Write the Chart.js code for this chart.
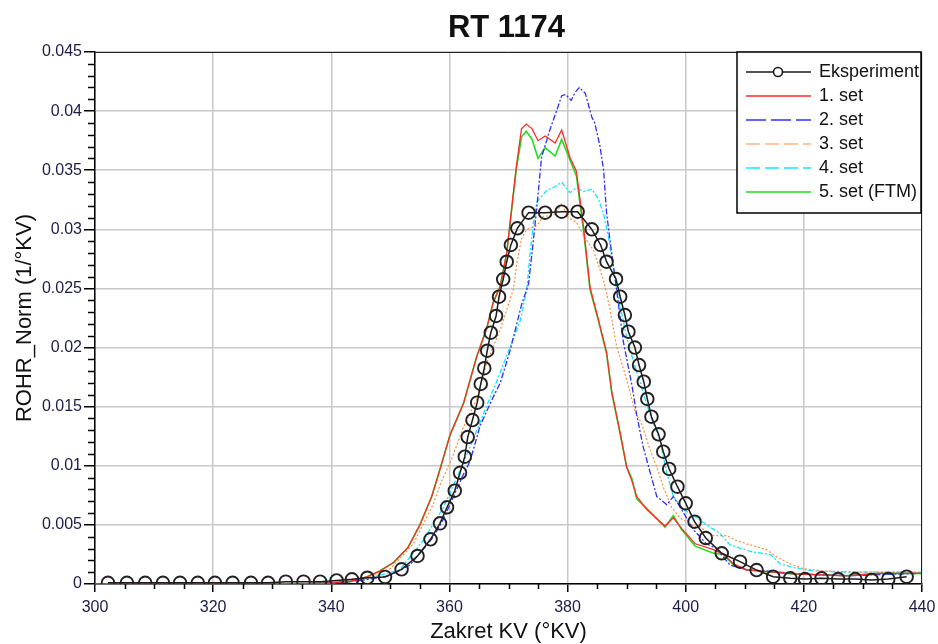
<!DOCTYPE html>
<html>
<head>
<meta charset="utf-8">
<script src="https://cdn.jsdelivr.net/npm/chart.js@4.4.1/dist/chart.umd.min.js"></script>
<style>
  html, body { margin: 0; padding: 0; background: #fff; }
</style>
</head>
<body>
<canvas id="rohrChart" width="938" height="644"></canvas>
<script>
// crank angle (°KV) and normalised ROHR (1/°KV)
const expX = [302.2, 305.4, 308.5, 311.5, 314.4, 317.4, 320.3, 323.3, 326.4, 329.3, 332.3, 335.3, 338.1, 340.9, 343.5,
  346.1, 349.1, 351.9, 354.6, 356.8, 358.4, 359.6, 360.9, 361.8, 362.6, 363.1, 363.9, 364.7, 365.3, 365.9,
  366.4, 367.0, 367.9, 368.4, 369.1, 369.7, 370.4, 371.5, 373.4, 376.2, 379.0, 381.7, 384.1, 385.6, 386.6,
  388.2, 388.9, 389.7, 390.3, 391.4, 392.1, 392.9, 393.5, 394.2, 395.4, 396.2, 397.2, 398.6, 400.0, 401.5,
  403.4, 406.1, 409.2, 412.0, 414.8, 417.7, 420.2, 423.0, 425.8, 428.7, 431.5, 434.3, 437.4];
const expY = [0.0001, 0.0001, 0.0001, 0.0001, 0.0001, 0.0001, 0.0001, 0.0001, 0.0001, 0.0001, 0.0002, 0.0002, 0.0002, 0.0003, 0.0004,
  0.00053, 0.0006, 0.00124, 0.00237, 0.00378, 0.00513, 0.00649, 0.00789, 0.00941, 0.01077, 0.01243, 0.01387, 0.01534, 0.01692, 0.01825,
  0.01973, 0.02126, 0.02267, 0.0243, 0.02577, 0.02726, 0.02868, 0.03009, 0.03141, 0.03141, 0.03149, 0.03149, 0.03, 0.02868, 0.02726,
  0.0258, 0.0243, 0.02275, 0.02134, 0.02, 0.01852, 0.01711, 0.01565, 0.01415, 0.01266, 0.01119, 0.00973, 0.00823, 0.00683, 0.00527,
  0.00389, 0.0026, 0.00189, 0.00118, 0.00062, 0.00048, 0.00042, 0.00048, 0.00042, 0.00042, 0.00034, 0.00042, 0.00062];

const set1X = [300, 335, 340, 343.2, 346, 348.2, 350.5, 353, 355, 357, 358.4, 360.1, 362.4, 364.6, 366.3, 367.4, 368.6, 369.7,
  370.5, 371.3, 372.2, 373.0, 374.0, 375.0, 376.2, 377.9, 379.0, 380.4, 381.5, 382.7, 383.8, 385.2, 386.6, 387.5, 388.9,
  390.0, 390.9, 391.7, 393.4, 396.5, 397.9, 399.3, 401.6, 404.7, 406.4, 408.1, 410.3, 414.8, 418.2, 421.6, 427.2, 432.9, 438.5, 440];
const set1Y = [0, 0, 0.0001, 0.0002, 0.0006, 0.0011, 0.0018, 0.0031, 0.005, 0.0074, 0.0097, 0.0126, 0.0153, 0.0192, 0.0216, 0.0238, 0.0252, 0.028,
  0.0316, 0.0352, 0.0385, 0.0389, 0.0385, 0.0375, 0.0379, 0.0373, 0.0384, 0.0361, 0.0349, 0.0302, 0.0251, 0.0224, 0.0196, 0.0162, 0.0128,
  0.0099, 0.0087, 0.0074, 0.0063, 0.0049, 0.0056, 0.0047, 0.0034, 0.0029, 0.0025, 0.0017, 0.0012, 0.001, 0.00085, 0.0008, 0.0007, 0.0009, 0.0009, 0.0009];

const set2X = [300, 335, 340, 345, 349.9, 353.3, 356.2, 357.3, 359.0, 360.7, 362.3, 363.5, 365.2, 367.4, 368.6, 370.3, 372.2, 373.4,
  374.2, 374.8, 375.6, 377.0, 378.4, 379.0, 379.7, 380.6, 381.3, 382.0, 383.0, 384.1, 384.6, 385.5, 386.1, 386.6, 387.2, 388.3,
  389.4, 390.9, 391.7, 392.8, 394.0, 395.1, 396.8, 397.9, 399.3, 401.3, 403.5, 405.2, 407.5, 410.3, 413.7, 418, 422, 428, 433, 440];
const set2Y = [0, 0, 0.0001, 0.0003, 0.0007, 0.0016, 0.0033, 0.004, 0.0055, 0.0074, 0.0092, 0.0104, 0.0134, 0.0158, 0.017, 0.0198, 0.0236, 0.0254,
  0.029, 0.0319, 0.0361, 0.0384, 0.0404, 0.0413, 0.0414, 0.0409, 0.0416, 0.042, 0.0415, 0.0395, 0.039, 0.037, 0.035, 0.0314, 0.029, 0.0249,
  0.0206, 0.0168, 0.0143, 0.0116, 0.0094, 0.0074, 0.0067, 0.0074, 0.0063, 0.0046, 0.0034, 0.003, 0.0016, 0.0012, 0.0011, 0.0009, 0.0008, 0.0007, 0.0008, 0.0009];

const set3X = [300, 335, 340, 345, 350, 353.9, 355, 357.3, 358.5, 360.4, 362.4, 364.6, 366.3, 368.6, 370.8, 371.4, 372.2, 373.1,
  374.8, 375.9, 377.6, 378.7, 379.0, 380.1, 381.5, 382.7, 384.4, 386.1, 387.2, 388.3, 390.0, 391.4, 392.5, 394.0, 395.1, 396.2,
  397.6, 399.0, 401.3, 402.4, 404.7, 406.9, 408.5, 410.3, 413.7, 415.4, 417.7, 419.9, 423.3, 430.1, 438.5, 440];
const set3Y = [0, 0, 0.0001, 0.0004, 0.0013, 0.0034, 0.0045, 0.0068, 0.0085, 0.0106, 0.0133, 0.0156, 0.0187, 0.0215, 0.0249, 0.0271, 0.0292, 0.03,
  0.0303, 0.0311, 0.0312, 0.0319, 0.0322, 0.031, 0.0306, 0.0295, 0.0282, 0.0257, 0.0232, 0.0201, 0.0173, 0.0146, 0.0136, 0.0113, 0.0099, 0.0082,
  0.0065, 0.0056, 0.0049, 0.0048, 0.0041, 0.0041, 0.0037, 0.0034, 0.0029, 0.0023, 0.0017, 0.0013, 0.0011, 0.001, 0.001, 0.0009];

const set4X = [300, 335, 340, 345, 351.6, 355.6, 359.0, 361.8, 364.0, 366.9, 368.3, 370.3, 372.0, 373.1, 373.6, 374.2, 374.8, 375.6,
  376.5, 377.9, 379.0, 380.4, 381.5, 382.7, 384.1, 385.2, 386.1, 386.9, 387.7, 388.3, 388.9, 390.0, 391.1, 392.5, 393.4, 394.2,
  395.6, 396.8, 397.9, 399.6, 401.9, 404.1, 405.8, 407.5, 411.4, 414.3, 416.0, 418.2, 421.6, 427.2, 438.5, 440];
const set4Y = [0, 0, 0.0001, 0.0003, 0.0012, 0.0037, 0.0065, 0.0096, 0.0122, 0.0158, 0.0175, 0.0201, 0.0223, 0.0249, 0.0277, 0.0305, 0.0323, 0.0328,
  0.0333, 0.0336, 0.034, 0.0331, 0.0335, 0.0332, 0.0334, 0.0326, 0.0313, 0.0294, 0.0268, 0.025, 0.0235, 0.0209, 0.0189, 0.0167, 0.0152, 0.014,
  0.0122, 0.0094, 0.0074, 0.0063, 0.0056, 0.0048, 0.0043, 0.0033, 0.0027, 0.0025, 0.0017, 0.0014, 0.0011, 0.001, 0.001, 0.001];

const set5X = [300, 335, 340, 343.2, 346, 348.2, 350.5, 353, 355, 357, 358.4, 360.1, 362.4, 364.6, 366.3, 367.4, 368.6, 369.7,
  370.5, 371.3, 372.2, 373.0, 374.0, 375.0, 376.2, 377.9, 379.0, 380.4, 381.5, 382.7, 383.8, 385.2, 386.6, 387.5, 388.9,
  390.0, 390.9, 391.7, 393.4, 396.5, 397.9, 399.3, 401.6, 404.7, 406.4, 408.1, 410.3, 414.8, 418.2, 421.6, 427.2, 432.9, 438.5, 440];
const set5Y = [0, 0, 0.0001, 0.0002, 0.0006, 0.0011, 0.0018, 0.0031, 0.005, 0.0074, 0.0097, 0.0126, 0.0153, 0.0192, 0.0216, 0.0238, 0.0252, 0.028,
  0.0315, 0.035, 0.0378, 0.0383, 0.0376, 0.036, 0.0369, 0.0362, 0.0376, 0.0359, 0.0345, 0.0299, 0.0249, 0.0223, 0.0195, 0.0161, 0.0127,
  0.0099, 0.0089, 0.0072, 0.0064, 0.0048, 0.0058, 0.0046, 0.0032, 0.0026, 0.0025, 0.0016, 0.0012, 0.001, 0.00085, 0.0008, 0.0007, 0.0009, 0.0009, 0.0009];

const seriesLabels = ["Eksperiment", "1. set", "2. set", "3. set", "4. set", "5. set (FTM)"];
const chartTitle = "RT 1174";
const xTickStep = 20;
const yTickStep = 0.005;

const toPoints = (xs, ys) => xs.map((x, i) => ({ x: x, y: ys[i] }));

const FONT = "'Liberation Sans', Arial, sans-serif";
const TICK_COLOR = "#1c1c48";

// title centred over the plot, plus the thin frame on top and right
const plotTitle = {
  id: "plotTitle",
  afterDraw(chart) {
    const ctx = chart.ctx;
    const area = chart.chartArea;
    ctx.save();
    ctx.strokeStyle = "#222";
    ctx.lineWidth = 1;
    ctx.beginPath();
    ctx.moveTo(area.left, area.top + 0.5);
    ctx.lineTo(area.right - 0.5, area.top + 0.5);
    ctx.lineTo(area.right - 0.5, area.bottom);
    ctx.stroke();
    ctx.fillStyle = "#111";
    ctx.font = "bold 31px " + FONT;
    ctx.textAlign = "center";
    ctx.textBaseline = "middle";
    ctx.fillText(chartTitle, (area.left + area.right) / 2 - 2, 28);
    ctx.restore();
  },
};

// small ticks between the labelled ones
const minorTicks = {
  id: "minorTicks",
  afterDraw(chart) {
    const ctx = chart.ctx;
    const xs = chart.scales.x;
    const ys = chart.scales.y;
    ctx.save();
    ctx.strokeStyle = "#000";
    ctx.lineWidth = 1.5;
    ctx.beginPath();
    for (let v = xs.min; v <= xs.max; v += 5) {
      if (v % xTickStep === 0) continue;
      const px = Math.round(xs.getPixelForValue(v)) + 0.5;
      ctx.moveTo(px, ys.bottom);
      ctx.lineTo(px, ys.bottom + 5);
    }
    for (let i = 1; i < 45; i++) {
      if (i % 5 === 0) continue;
      const py = Math.round(ys.getPixelForValue(i / 1000)) + 0.5;
      ctx.moveTo(xs.left, py);
      ctx.lineTo(xs.left - 7, py);
    }
    ctx.stroke();
    ctx.restore();
  },
};

// boxed legend in the top right corner of the plot
const legendDash = [[], [], [20, 5], [14, 5], [14, 5], []];
const boxLegend = {
  id: "boxLegend",
  afterDraw(chart) {
    const ctx = chart.ctx;
    const area = chart.chartArea;
    const left = 737;
    const top = area.top;
    const right = area.right - 1;
    const bottom = 213;
    ctx.save();
    ctx.fillStyle = "#fff";
    ctx.fillRect(left, top, right - left, bottom - top);
    ctx.strokeStyle = "#000";
    ctx.lineWidth = 1.5;
    ctx.strokeRect(left, top, right - left, bottom - top);
    ctx.font = "18px " + FONT;
    ctx.textBaseline = "middle";
    chart.data.datasets.forEach((ds, i) => {
      const y = top + 20 + i * 24;
      ctx.strokeStyle = ds.borderColor;
      ctx.lineWidth = ds.borderWidth;
      ctx.setLineDash(legendDash[i]);
      ctx.beginPath();
      ctx.moveTo(left + 9, y);
      ctx.lineTo(left + 74, y);
      ctx.stroke();
      ctx.setLineDash([]);
      if (ds.pointRadius) {
        ctx.beginPath();
        ctx.arc(left + 41, y, 4.5, 0, Math.PI * 2);
        ctx.fillStyle = "#fff";
        ctx.fill();
        ctx.lineWidth = 1.6;
        ctx.stroke();
      }
      ctx.fillStyle = "#111";
      ctx.fillText(ds.label, left + 82, y);
    });
    ctx.restore();
  },
};

const lineSet = (label, xs, ys, color, width, dash) => ({
  label: label,
  data: toPoints(xs, ys),
  borderColor: color,
  borderWidth: width,
  borderDash: dash,
  pointRadius: 0,
  tension: 0,
  fill: false,
});

new Chart(document.getElementById("rohrChart"), {
  type: "line",
  data: {
    datasets: [
      {
        label: seriesLabels[0],
        data: toPoints(expX, expY),
        borderColor: "#1a1a1a",
        borderWidth: 1.5,
        pointRadius: 6.3,
        pointBorderWidth: 1.9,
        pointBackgroundColor: "rgba(0,0,0,0)",
        pointBorderColor: "#222",
        tension: 0,
        fill: false,
        clip: 0,
      },
      lineSet(seriesLabels[1], set1X, set1Y, "#ff2b2b", 1.3, []),
      lineSet(seriesLabels[2], set2X, set2Y, "#3030f5", 1.3, [6, 2, 2, 2]),
      lineSet(seriesLabels[3], set3X, set3Y, "#ff8c3c", 1.2, [2, 2]),
      lineSet(seriesLabels[4], set4X, set4Y, "#14e6ff", 1.3, [5, 2, 2, 2]),
      lineSet(seriesLabels[5], set5X, set5Y, "#22dd22", 1.6, []),
    ],
  },
  options: {
    responsive: false,
    animation: false,
    layout: { padding: { left: 0, right: 16, top: 52, bottom: 0 } },
    plugins: {
      legend: { display: false },
      tooltip: { enabled: false },
      title: { display: false },
    },
    scales: {
      x: {
        type: "linear",
        min: 300,
        max: 440,
        afterFit: (scale) => {
          scale.height = 60;
          scale.paddingLeft = 0;
          scale.paddingRight = 0;
        },
        ticks: {
          stepSize: xTickStep,
          color: TICK_COLOR,
          font: { family: FONT, size: 16 },
          padding: 6,
          maxRotation: 0,
        },
        grid: { color: "#c8c8c8", lineWidth: 1.5, tickColor: "#000", tickLength: 8 },
        border: { color: "#000", width: 1.5 },
        title: {
          display: true,
          text: "Zakret KV (°KV)",
          color: "#111",
          font: { family: FONT, size: 22 },
          padding: { top: 0, bottom: -1 },
        },
      },
      y: {
        min: 0,
        max: 0.045,
        afterFit: (scale) => { scale.width = 95; },
        ticks: {
          stepSize: yTickStep,
          color: TICK_COLOR,
          font: { family: FONT, size: 16 },
          padding: 2,
          callback: (v) => (v === 0 ? "0" : String(+v.toFixed(3))),
        },
        grid: { color: "#c8c8c8", lineWidth: 1.5, tickColor: "#000", tickLength: 11 },
        border: { color: "#000", width: 1.5 },
        title: {
          display: true,
          text: "ROHR_Norm (1/°KV)",
          color: "#111",
          font: { family: FONT, size: 22 },
          padding: { top: 12, bottom: 0 },
        },
      },
    },
  },
  plugins: [minorTicks, plotTitle, boxLegend],
});
</script>
</body>
</html>
